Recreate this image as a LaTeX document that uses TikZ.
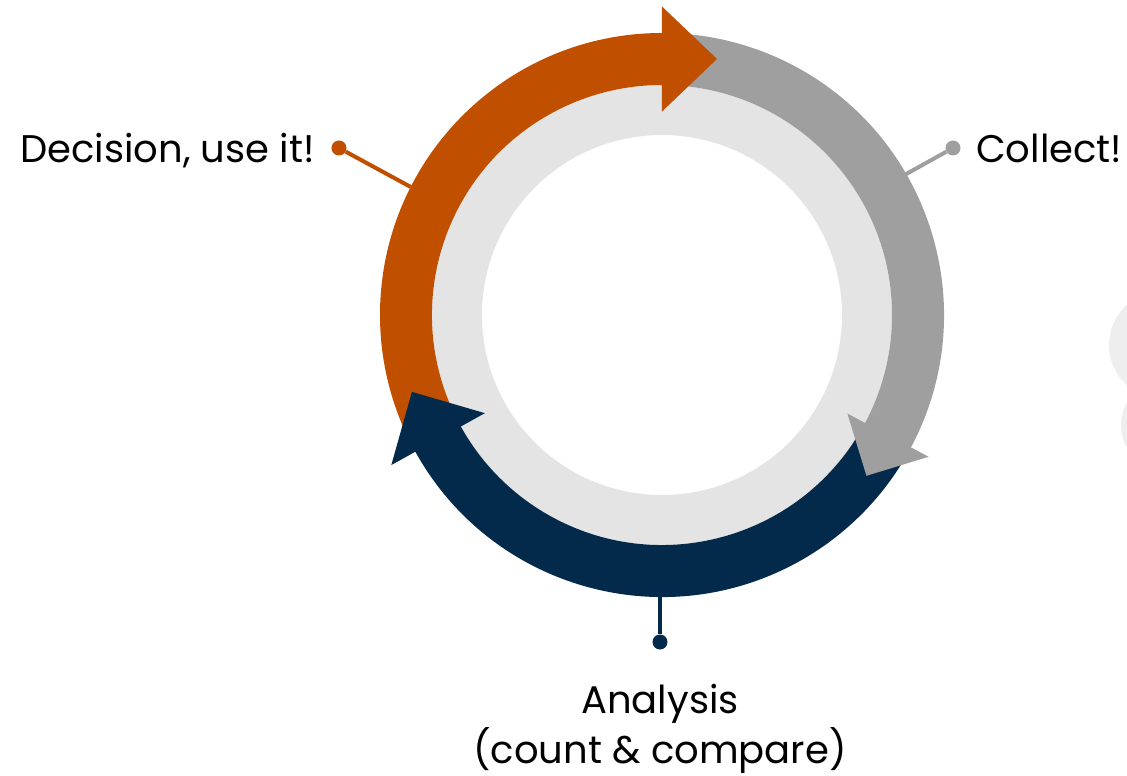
\documentclass[tikz,border=0pt]{standalone}
\usepackage{fontspec}
\setmainfont{Poppins}
\usetikzlibrary{calc}

\definecolor{cycorange}{HTML}{C04F00}
\definecolor{cycgray}{HTML}{9F9F9F}
\definecolor{cycnavy}{HTML}{032A4A}
\definecolor{cycring}{HTML}{E4E4E4}
\definecolor{ghost}{HTML}{EEEEEE}

% one coloured stretch of the cycle, from angle #2 to angle #3
\newcommand{\cycleband}[3]{%
  \fill[#1] (#2:230) arc[start angle=#2,end angle=#3,radius=230pt]
    -- (#3:282) arc[start angle=#3,end angle=#2,radius=282pt] -- cycle;}
% arrow head: base at angle #2, half width #3, length #4 (clockwise)
\newcommand{\cyclehead}[4]{%
  \fill[#1] ({#2}:{256-#3}) -- ($({#2}:256)+({#2-90}:#4)$) -- ({#2}:{256+#3}) -- cycle;}

\tikzset{
  tipdot/.style={circle,fill=#1,inner sep=0pt,minimum size=15pt},
  stem/.style={#1,line width=4pt},
  steptext/.style={inner sep=0pt,font=\fontsize{38.5}{50}\selectfont}
}

\begin{document}
\begin{tikzpicture}[x=1pt,y=1pt]
	\useasboundingbox (-662,-461) rectangle (465,315);

	% faint letter cut by the right edge
	\begin{scope}
		\clip (-662,-461) rectangle (465,315);
		\fill[ghost] (503,-30) ellipse[x radius=56pt,y radius=55pt];
		\fill[ghost] (503,-110) ellipse[x radius=44pt,y radius=45pt];
	\end{scope}

	% inner ring
	\fill[cycring,even odd rule] (0,0) circle[radius=230pt] circle[radius=180pt];

	% the three stretches, then their heads on top
	\cycleband{cycorange}{205}{89}
	\cycleband{cycgray}{88}{-29}
	\cycleband{cycnavy}{330}{208}
	\cyclehead{cycorange}{90}{52.5}{55}
	\cyclehead{cycgray}{-28}{46}{46}
	\cyclehead{cycnavy}{209}{53.5}{54}

	% labels with their pointers
	\node[tipdot=cycorange] (decdot) at (-323,167) {};
	\coordinate (decend) at (153:282);
	\draw[stem=cycorange] (decdot) -- (decend);
	\node[steptext,anchor=base east] (decision) at (-347,152) {Decision, use it!};

	\node[tipdot=cycgray] (coldot) at (291,167) {};
	\coordinate (colend) at (30:281);
	\draw[stem=cycgray] (coldot) -- (colend);
	\node[steptext,anchor=base west] (collect) at (314,152) {Collect!};

	\node[tipdot=cycnavy] (anadot) at (-2,-327) {};
	\coordinate (anaend) at (-2,-282);
	\draw[stem=cycnavy] (anadot) -- (anaend);
	\node[steptext,align=center,anchor=base] (analysis) at (-2,-448) {Analysis\\(count \& compare)};
\end{tikzpicture}
\end{document}
